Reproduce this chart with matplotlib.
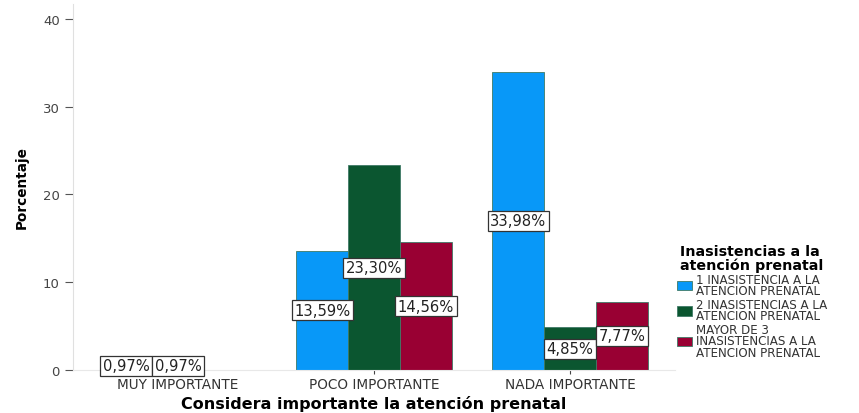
import matplotlib.pyplot as plt
import numpy as np

# percentages per category and number of missed prenatal visits
categorias = ["MUY IMPORTANTE", "POCO IMPORTANTE", "NADA IMPORTANTE"]
una = [0.97, 13.59, 33.98]
dos = [0.97, 23.30, 4.85]
mas_tres = [0.0, 14.56, 7.77]
series = [una, dos, mas_tres]
nombres = ["1 INASISTENCIA A LA\nATENCION PRENATAL",
           "2 INASISTENCIAS A LA\nATENCION PRENATAL",
           "MAYOR DE 3\nINASISTENCIAS A LA\nATENCION PRENATAL"]
colores = ["#0898f8", "#0b5630", "#990033"]

fig = plt.figure(figsize=(8.59, 4.14), dpi=100)
ax = fig.add_axes([0.085, 0.104, 0.701, 0.884])

x = np.arange(len(categorias))
ancho = 0.265
for i, (vals, nombre, color) in enumerate(zip(series, nombres, colores)):
    pos = x + (i - 1) * ancho
    ax.bar(pos, vals, ancho, color=color, edgecolor="#3f7a66", linewidth=0.6, label=nombre)
    for xp, v in zip(pos, vals):
        if v > 0:
            ax.text(xp, v / 2, f"{v:.2f}%".replace(".", ","), ha="center", va="center",
                    fontsize=10.6, color="#222222",
                    bbox=dict(boxstyle="square,pad=0.16", fc="white", ec="#333333", lw=0.9))

ax.set_xlim(-0.536, 2.536)
ax.set_ylim(0, 41.7)
ax.set_yticks([0, 10, 20, 30, 40])
ax.set_xticks(x)
ax.set_xticklabels(categorias, fontsize=9.8, color="#333333")
ax.tick_params(axis="y", labelsize=9.5, labelcolor="#444444", color="#555555", length=6, width=0.8)
ax.tick_params(axis="x", color="#444444", length=3, width=0.8, pad=2)

for s in ["top", "right"]:
    ax.spines[s].set_visible(False)
ax.spines["left"].set_color("#e0e0e0")
ax.spines["bottom"].set_color("#e8e8e8")

ax.set_ylabel("Porcentaje", fontweight="bold", fontsize=9.8, labelpad=10)
ax.set_xlabel("Considera importante la atención prenatal", fontweight="bold",
              fontsize=11.5, labelpad=3)

leg = fig.legend(loc="upper left", bbox_to_anchor=(0.78, 0.425), frameon=False,
                 title="Inasistencias a la\natención prenatal",
                 fontsize=8.6, handlelength=1.2, handleheight=0.8, handletextpad=0.35,
                 labelspacing=0.05, borderpad=0.1)
leg.get_title().set_fontweight("bold")
leg.get_title().set_fontsize(10.3)
leg.get_title().set_linespacing(0.95)
for t in leg.get_texts():
    t.set_linespacing(0.85)
    t.set_color("#333333")

fig.savefig("out.png", dpi=100)
